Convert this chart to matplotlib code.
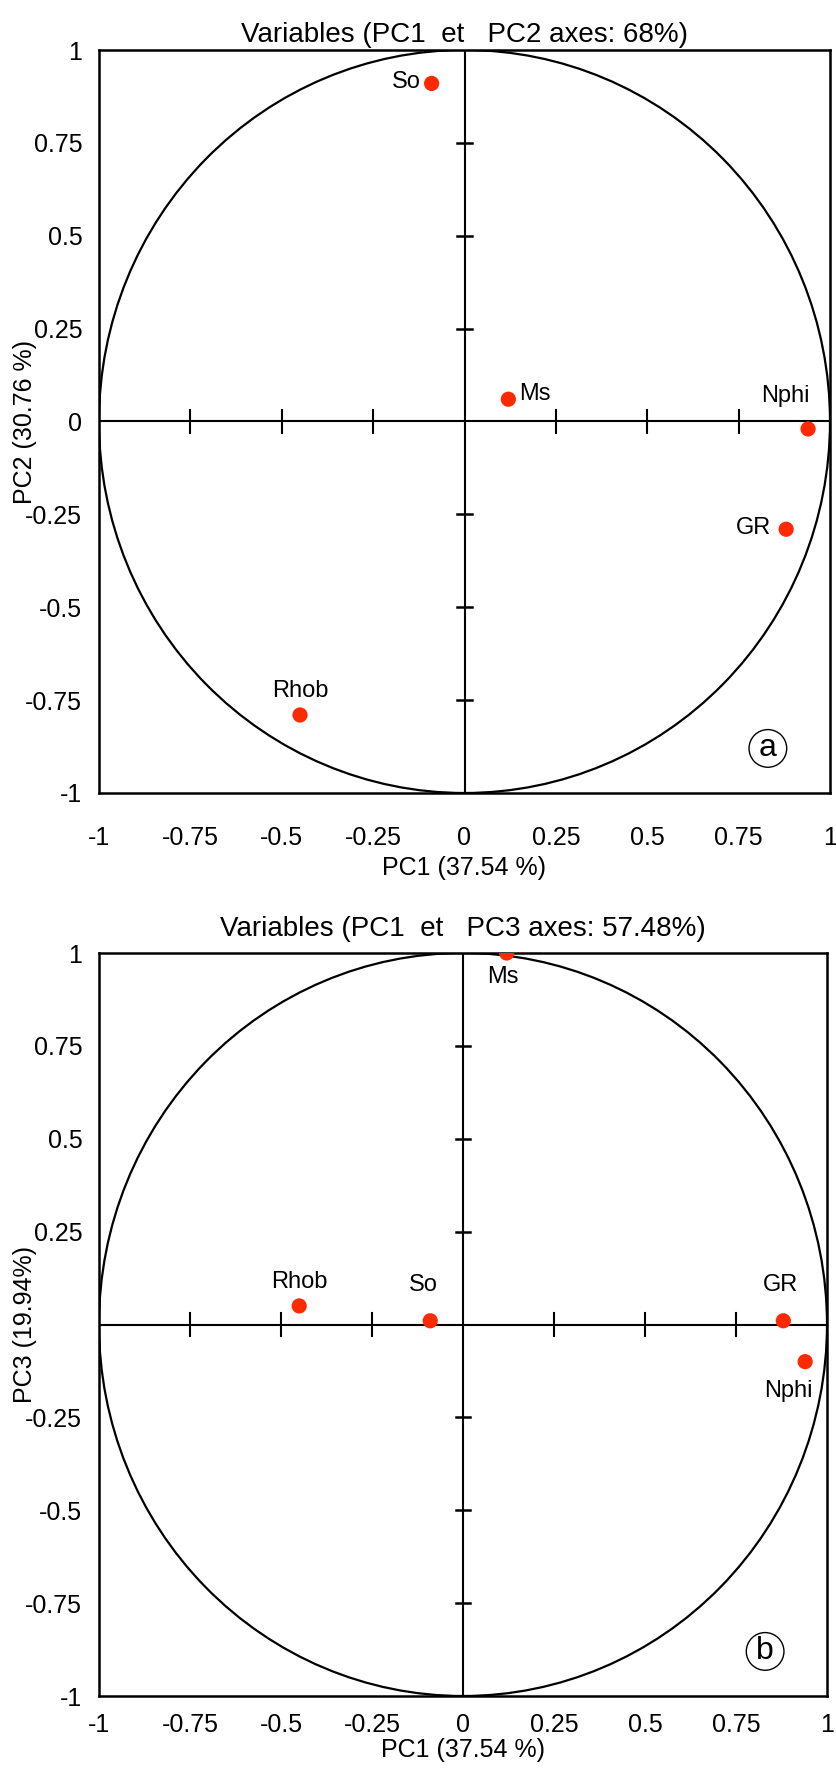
import matplotlib
matplotlib.use("Agg")
import matplotlib.pyplot as plt
import numpy as np
from matplotlib.patches import Circle

plt.rcParams['font.family'] = ['Liberation Sans Narrow', 'Liberation Sans', 'DejaVu Sans']

# Data
variables = ["So", "Ms", "Nphi", "GR", "Rhob"]
pc1 = [-0.09, 0.12, 0.94, 0.88, -0.45]
pc2 = [0.91, 0.06, -0.02, -0.29, -0.79]
pc3 = [0.01, 1.0, -0.10, 0.01, 0.05]

ticks = [-1, -0.75, -0.5, -0.25, 0, 0.25, 0.5, 0.75, 1]
tick_labels = ["-1", "-0.75", "-0.5", "-0.25", "0", "0.25", "0.5", "0.75", "1"]
ytick_labels_b = ["-1", "-0.75", "-0.5", "-0.25", "", "0.25", "0.5", "0.75", "1"]

title_a = "Variables (PC1  et   PC2 axes: 68%)"
title_b = "Variables (PC1  et   PC3 axes: 57.48%)"
xlabel = "PC1 (37.54 %)"
ylabel_a = "PC2 (30.76 %)"
ylabel_b = "PC3 (19.94%)"

# label offsets (points) per panel
offs_a = {"So": (-8, 1, 'right', 'center'), "Ms": (8, 4, 'left', 'center'),
          "Nphi": (-16, 16, 'center', 'bottom'), "GR": (-11, 1, 'right', 'center'),
          "Rhob": (0, 9, 'center', 'bottom')}
offs_b = {"So": (-5, 18, 'center', 'bottom'), "Ms": (-3, -9, 'center', 'top'),
          "Nphi": (-12, -13, 'center', 'top'), "GR": (-2, 18, 'center', 'bottom'),
          "Rhob": (0, 9, 'center', 'bottom')}

W, H = 836, 1769
fig = plt.figure(figsize=(W / 100, H / 100), dpi=100)

def make_axes(left, top, right, bottom):
    return fig.add_axes([left / W, 1 - bottom / H, (right - left) / W, (bottom - top) / H])

ax_a = make_axes(99, 50, 830, 793)
ax_b = make_axes(99, 953, 827, 1696)

def draw(ax, ys, title, ylabel, ylabels, offs, letter, tpad, xpad, lpad):
    ax.set_xlim(-1, 1)
    ax.set_ylim(-1, 1)
    for s in ax.spines.values():
        s.set_linewidth(1.8)
    ax.set_xticks(ticks)
    ax.set_xticklabels(tick_labels)
    ax.set_yticks(ticks)
    ax.set_yticklabels(ylabels)
    ax.tick_params(length=0, labelsize=18)
    ax.tick_params(axis='x', pad=xpad)
    ax.tick_params(axis='y', pad=12)
    ax.set_title(title, fontsize=20, pad=tpad)
    ax.set_xlabel(xlabel, fontsize=18, labelpad=lpad)
    ax.set_ylabel(ylabel, fontsize=18, family=['Liberation Sans', 'DejaVu Sans'])
    ax.yaxis.set_label_coords(-0.085, 0.5)
    ax.add_patch(Circle((0, 0), 1, fill=False, lw=1.6, color='black', zorder=2))
    ax.axhline(0, color='black', lw=1.5, zorder=2)
    ax.axvline(0, color='black', lw=1.5, zorder=2)
    # cross ticks on central axes
    for t in [-0.75, -0.5, -0.25, 0.25, 0.5, 0.75]:
        ax.plot([t, t], [-0.03, 0.03], color='black', lw=1.5, zorder=2)
        ax.plot([-0.02, 0.02], [t, t], color='black', lw=1.8, zorder=2)
    ax.scatter(pc1, ys, s=120, color='#ff2a00', zorder=4, edgecolors='none')
    for name, x, y in zip(variables, pc1, ys):
        dx, dy, ha, va = offs[name]
        ax.annotate(name, (x, y), xytext=(dx, dy), textcoords='offset points',
                    ha=ha, va=va, fontsize=17, zorder=5)
    ax.text(0.83, -0.88, letter, fontsize=23, ha='center', va='center',
            bbox=dict(boxstyle='circle,pad=0.12', fc='white', ec='black', lw=1.0))

draw(ax_a, pc2, title_a, ylabel_a, tick_labels, offs_a, "a", 6, 24, 4)
draw(ax_b, pc3, title_b, ylabel_b, ytick_labels_b, offs_b, "b", 12, 12, 1)

fig.savefig("out.png", dpi=100, facecolor='white')
